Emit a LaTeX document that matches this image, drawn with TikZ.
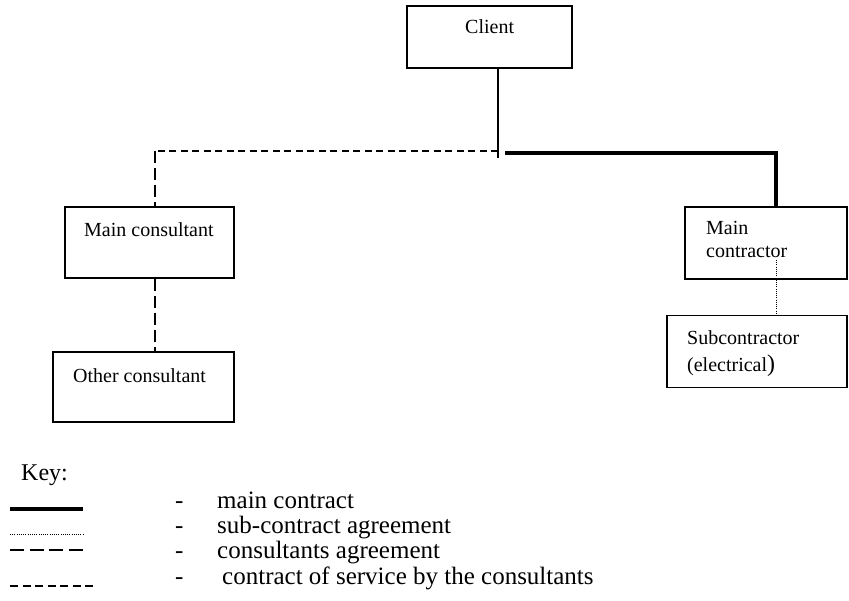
\documentclass[tikz,border=0pt]{standalone}
\usepackage{fontspec}
\setmainfont{Liberation Serif}
\usetikzlibrary{positioning,calc}
\tikzstyle{party}=[draw,line width=1.8pt,inner sep=0pt]
\tikzstyle{txt}=[anchor=base west,inner sep=0pt,font=\fontsize{20}{24}\selectfont]
\tikzstyle{keytxt}=[anchor=base west,inner sep=0pt,font=\fontsize{25}{28}\selectfont]
\tikzstyle{main contract}=[line width=4.8pt]
\tikzstyle{sub contract}=[line width=1pt,dash pattern=on 1pt off 1.2pt]
\tikzstyle{consultants}=[line width=1.6pt,dash pattern=on 12pt off 5pt]
\tikzstyle{service}=[line width=1.6pt,dash pattern=on 7pt off 4.5pt]

\begin{document}
\begin{tikzpicture}[x=1pt,y=-1pt]
\useasboundingbox (0,0) rectangle (849,600);
\node[party,minimum width=165pt,minimum height=62pt] (client) at (489.5,37) {};
\node[party,minimum width=169pt,minimum height=71pt] (mainCons) at (149.5,242.5) {};
\node[party,minimum width=181pt,minimum height=70pt] (otherCons) at (143.5,387) {};
\node[party,minimum width=162pt,minimum height=72pt] (mainCtr) at (766,243) {};
\node[party,minimum width=180pt,minimum height=72pt] (subCtr) at (757,351.5) {};
\node[txt] (clientTxt) at (465,33) {Client};
\node[txt] (mainConsTxt) at (84,236) {Main consultant};
\node[txt] (otherConsTxt) at (73,382) {Other consultant};
\node[txt] (mainCtrTxt) at (706,234) {Main};
\node[txt] (mainCtrTxt2) at (706,257) {contractor};
\node[txt] (subCtrTxt) at (687,344) {Subcontractor};
\node[txt] (subCtrTxt2) at (687,371) {(electrical{\fontsize{24}{24}\selectfont)}};
\coordinate (junc) at (498,152);
\coordinate (consCorner) at (155,151);
\coordinate (ctrCorner) at (776,153);
\coordinate (dotStart) at (776,260);
\draw[line width=1.3pt] (client.south -| junc) -- ($(junc)+(0,6)$);
\draw[service] ($(junc)+(0,-1)$) -- (consCorner) -- ++(0,6);
\draw[consultants] (consCorner) -- (mainCons.north -| consCorner);
\draw[main contract] ($(junc)+(7,1)$) -| (mainCtr.north -| ctrCorner);
\draw[consultants] (mainCons.south -| consCorner) -- (otherCons.north -| consCorner);
\draw[sub contract] (dotStart) -- (subCtr.north -| dotStart);
\node[keytxt,font=\fontsize{24}{28}\selectfont] (keyTitle) at (21,480) {Key:};
\draw[main contract,line width=4pt] (10,509) -- (83,509);
\draw[sub contract,line width=0.8pt] (10,534) -- (83,534);
\draw[consultants,dash pattern=on 14pt off 5.6pt] (10,550) -- (83,550);
\draw[service,dash pattern=on 8pt off 4.5pt] (10,586) -- (95,586);
\node[keytxt] (dashA) at (175,508) {-};
\node[keytxt] (dashB) at (175,533) {-};
\node[keytxt] (dashC) at (175,558) {-};
\node[keytxt] (dashD) at (175,584) {-};
\node[keytxt] (keyA) at (217,508) {main contract};
\node[keytxt] (keyB) at (217,533) {sub-contract agreement};
\node[keytxt] (keyC) at (217,558) {consultants agreement};
\node[keytxt] (keyD) at (222,584) {contract of service by the consultants};
\end{tikzpicture}
\end{document}
